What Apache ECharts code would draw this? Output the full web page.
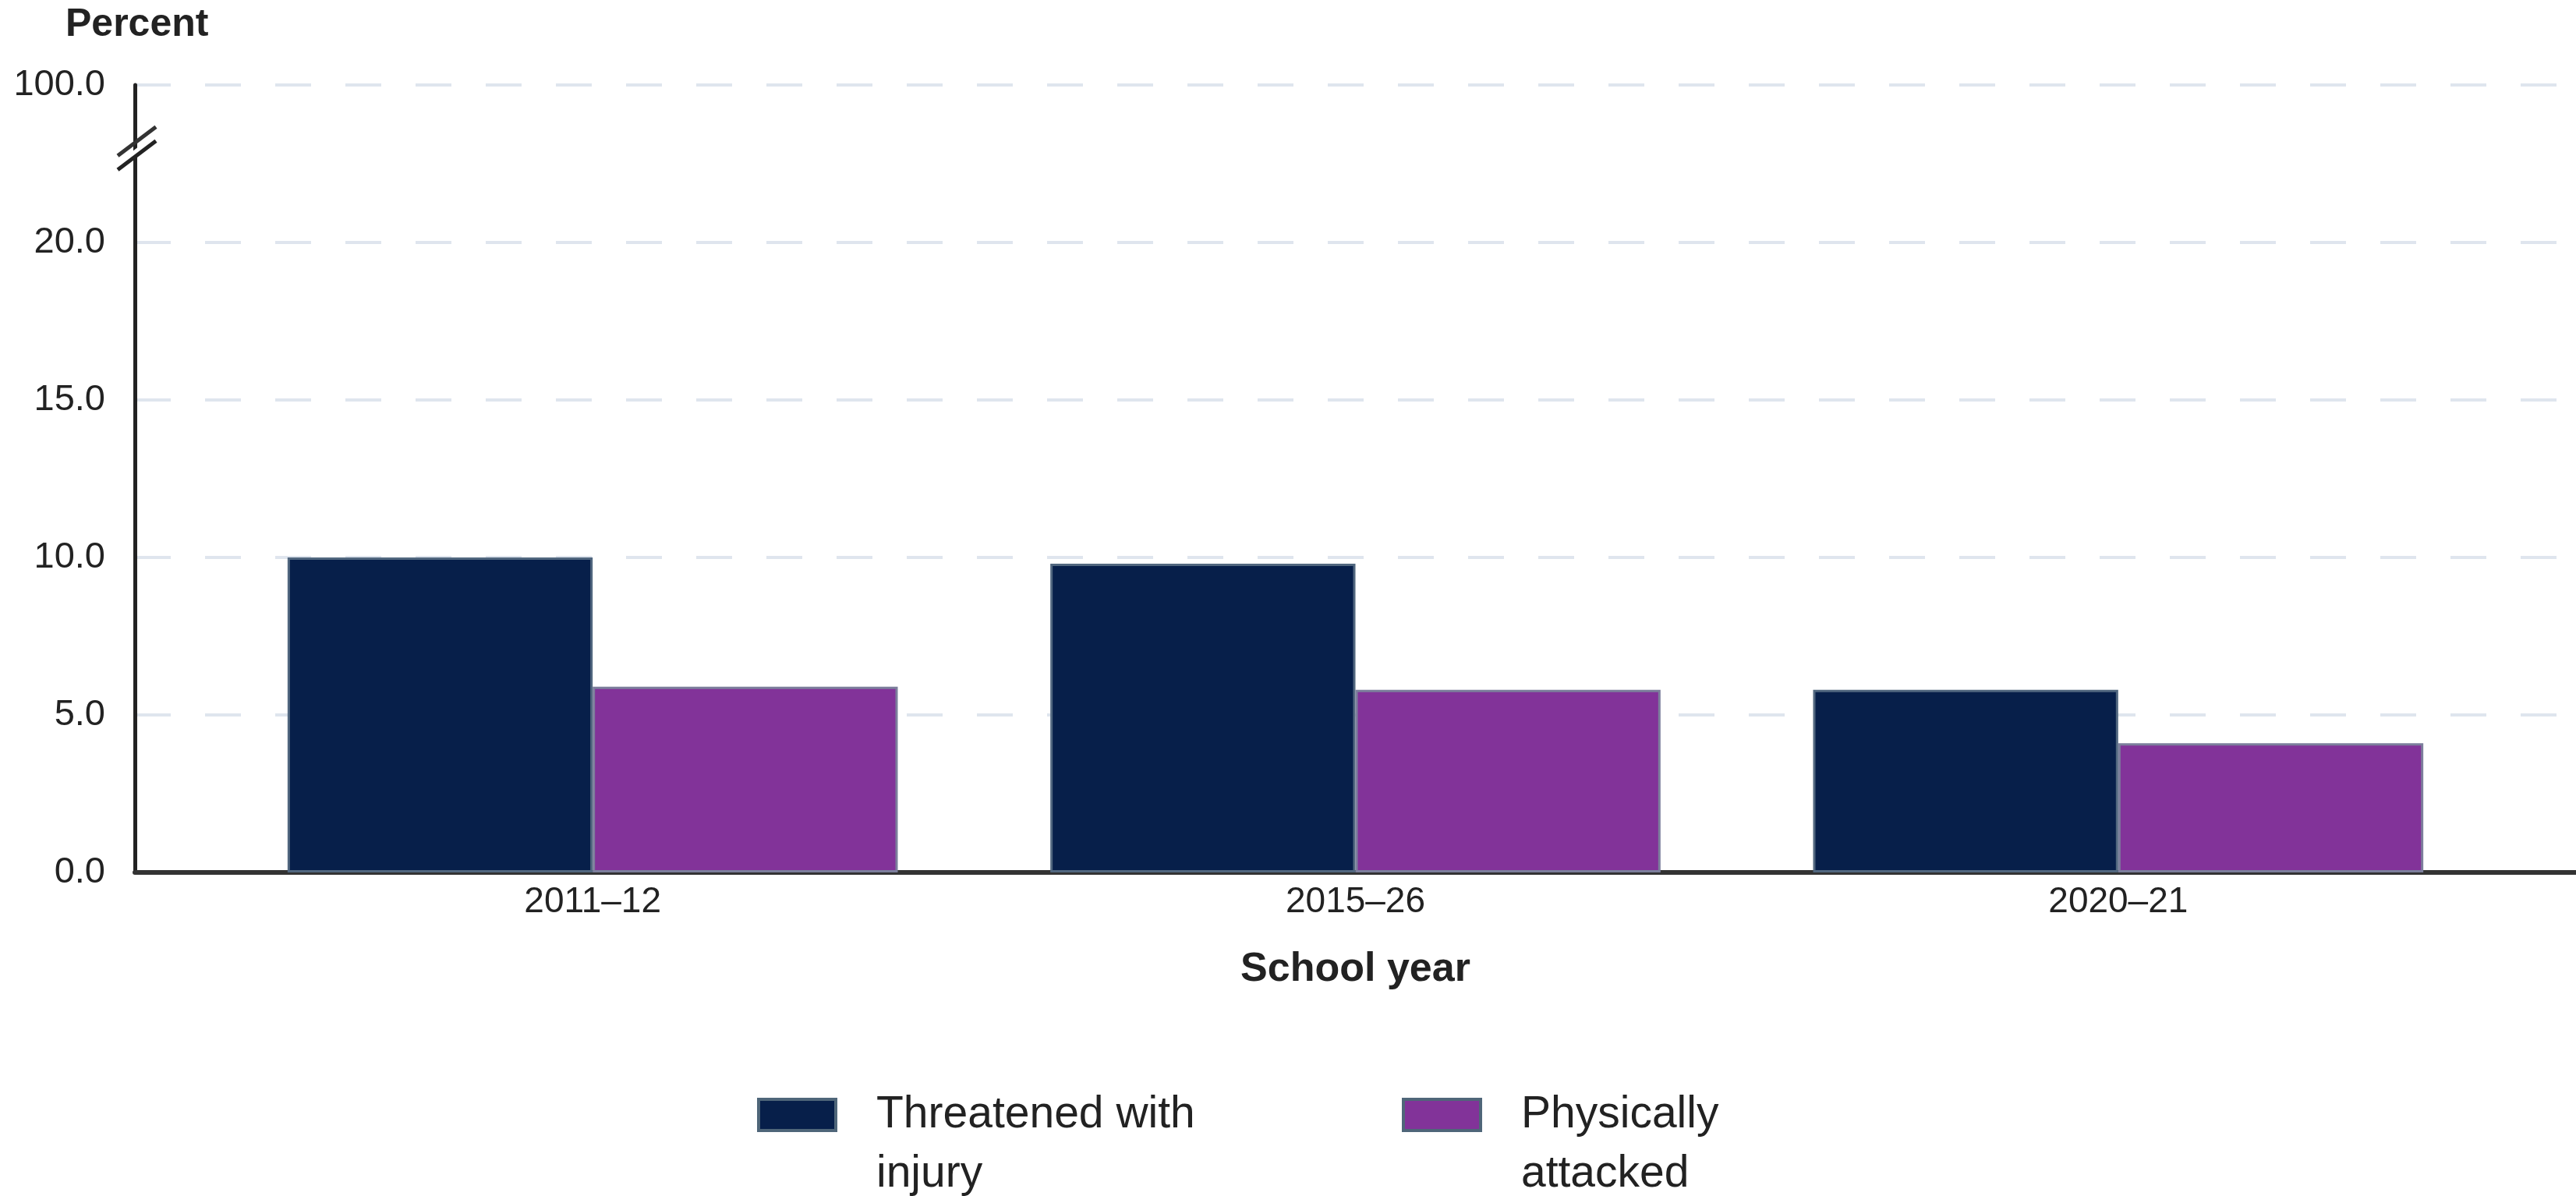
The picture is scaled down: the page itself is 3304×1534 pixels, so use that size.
<!DOCTYPE html>
<html><head><meta charset="utf-8">
<script src="https://cdn.jsdelivr.net/npm/echarts@6/dist/echarts.min.js"></script>
<style>html,body{margin:0;padding:0;background:#fff}#c{width:3304px;height:1534px}</style>
</head><body><div id="c"></div>
<script>
// ---- data ----
const categories = ['2011–12', '2015–26', '2020–21'];
const threatened = [10.0, 9.8, 5.8];
const attacked = [5.9, 5.8, 4.1];
const yTicks = [0, 5, 10, 15, 20, 25];
const yTickLabels = ['0.0', '5.0', '10.0', '15.0', '20.0', '100.0'];
const seriesNames = ['Threatened with injury', 'Physically attacked'];
const legendLabels = ['Threatened with\ninjury', 'Physically\nattacked'];
const breakValue = 23;

const FONT = "'Liberation Sans', Arial, sans-serif";
const chart = echarts.init(document.getElementById('c'));

const option = {
  backgroundColor: '#ffffff',
  animation: false,
  textStyle: { fontFamily: FONT },
  title: {
    text: 'Percent', left: 84, top: 7, padding: 0,
    textStyle: { fontSize: 50, fontWeight: 'bold', color: '#222222', fontFamily: FONT }
  },
  grid: [
    { left: 173, right: 0, top: 109, bottom: 415, containLabel: false },
    { left: 271, right: 98, top: 109, bottom: 415, containLabel: false }
  ],
  xAxis: [
    {
      gridIndex: 0, type: 'value', min: 0, max: 1,
      axisLine: { show: true, lineStyle: { color: '#333333', width: 6 } },
      axisTick: { show: false }, axisLabel: { show: false }, splitLine: { show: false }
    },
    {
      gridIndex: 1, type: 'category', data: categories,
      axisLine: { show: false }, axisTick: { show: false },
      axisLabel: { fontSize: 46, color: '#222222', margin: 15, lineHeight: 46, fontFamily: FONT },
      name: 'School year', nameLocation: 'middle', nameGap: 99,
      nameTextStyle: { fontSize: 52, fontWeight: 'bold', color: '#222222', fontFamily: FONT }
    }
  ],
  yAxis: [
    {
      gridIndex: 0, type: 'value', min: 0, max: 25, interval: 5,
      axisLine: { show: true, lineStyle: { color: '#222222', width: 5 } },
      axisTick: { show: false },
      axisLabel: {
        fontSize: 47, color: '#222222', margin: 38, fontFamily: FONT,
        formatter: v => { const i = yTicks.indexOf(v); return i >= 0 ? yTickLabels[i] : ''; }
      },
      splitLine: { show: true, lineStyle: { color: '#dfe5ee', width: 4, type: [46, 44] } }
    },
    {
      gridIndex: 1, type: 'value', min: 0, max: 25, interval: 5, show: false,
      splitLine: { show: false }
    }
  ],
  legend: {
    data: seriesNames,
    left: 971, top: 1316, padding: 0,
    itemWidth: 99, itemHeight: 40, itemGap: 244,
    icon: 'rect',
    itemStyle: { borderColor: '#4f6679', borderWidth: 4 },
    formatter: n => '\n' + legendLabels[seriesNames.indexOf(n)],
    textStyle: {
      fontSize: 57, lineHeight: 76, color: '#222222', fontFamily: FONT,
      width: 430, padding: [0, 0, 0, 47]
    }
  },
  series: [
    {
      name: seriesNames[0], type: 'bar', xAxisIndex: 1, yAxisIndex: 1,
      data: threatened, barGap: '0%', barCategoryGap: '20%',
      itemStyle: { color: '#071f4a', borderColor: '#51677f', borderWidth: 3 }
    },
    {
      name: seriesNames[1], type: 'bar', xAxisIndex: 1, yAxisIndex: 1,
      data: attacked, barGap: '0%', barCategoryGap: '20%',
      itemStyle: { color: '#823399', borderColor: '#7c7f9c', borderWidth: 3 }
    }
  ]
};
chart.setOption(option);

// axis-break marks on the y axis, placed through the axis scale
const p = chart.convertToPixel({ xAxisIndex: 0, yAxisIndex: 0 }, [0, breakValue]);
const bx = p[0], by = p[1];
chart.setOption({
  graphic: [
    { type: 'polygon', z: 100, shape: { points: [[bx - 22, by + 19], [bx + 26, by - 18], [bx + 26, by - 10], [bx - 22, by + 27]] }, style: { fill: '#ffffff' } },
    { type: 'line', z: 101, shape: { x1: bx - 22, y1: by + 10, x2: bx + 27, y2: by - 27 }, style: { stroke: '#333333', lineWidth: 5 } },
    { type: 'line', z: 101, shape: { x1: bx - 22, y1: by + 28, x2: bx + 27, y2: by - 9 }, style: { stroke: '#222222', lineWidth: 5 } }
  ]
});
</script>
</body></html>
